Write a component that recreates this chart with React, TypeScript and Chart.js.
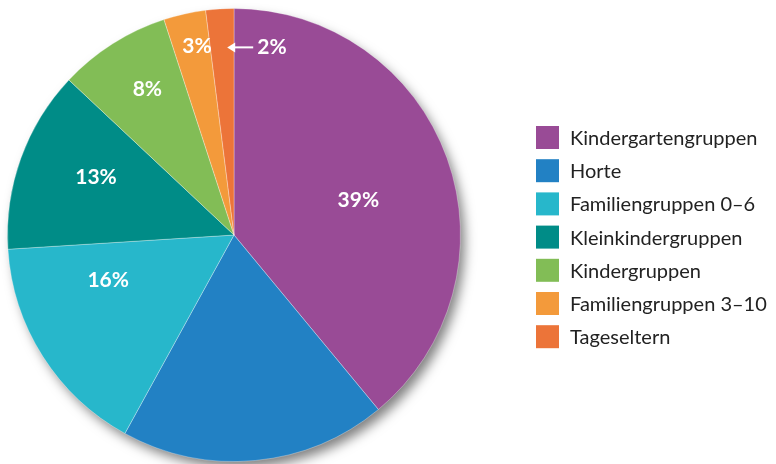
import React, { useEffect, useRef } from "react";
import { Chart, registerables } from "chart.js";

Chart.register(...registerables);

const categories = [
  "Kindergartengruppen",
  "Horte",
  "Familiengruppen 0–6",
  "Kleinkindergruppen",
  "Kindergruppen",
  "Familiengruppen 3–10",
  "Tageseltern",
];
const shares = [39, 19, 16, 13, 8, 3, 2];
const shownLabels = ["39%", "", "16%", "13%", "8%", "3%", "2%"];
const colors = ["#994B96", "#2281C4", "#27B7CB", "#008C87", "#82BD56", "#F39A3B", "#EC7439"];
// label placement inside slice: t = fraction of slice angle, r = fraction of radius
const labelPlacement = [
  { t: 0.53, r: 0.57 },
  null,
  { t: 0.72, r: 0.59 },
  { t: 0.56, r: 0.66 },
  { t: 0.56, r: 0.75 },
  { t: 0.64, r: 0.85 },
  { t: 0.5, r: 0.83, outside: true },
];

const FONT = "Lato, 'Open Sans', sans-serif";

const shadowPlugin = {
  id: "pieShadow",
  beforeDatasetsDraw(chart: any) {
    const arc = chart.getDatasetMeta(0).data[0];
    if (!arc) return;
    const ctx = chart.ctx;
    ctx.save();
    ctx.shadowColor = "rgba(0,0,0,0.5)";
    ctx.shadowBlur = 12;
    ctx.shadowOffsetX = 5;
    ctx.shadowOffsetY = 7;
    ctx.fillStyle = "#ffffff";
    ctx.beginPath();
    ctx.arc(arc.x, arc.y, arc.outerRadius - 1, 0, Math.PI * 2);
    ctx.fill();
    ctx.restore();
  },
};

const labelPlugin = {
  id: "sliceLabels",
  afterDatasetsDraw(chart: any) {
    const ctx = chart.ctx;
    const arcs = chart.getDatasetMeta(0).data;
    ctx.save();
    ctx.fillStyle = "#ffffff";
    ctx.strokeStyle = "#ffffff";
    ctx.font = `bold 21px ${FONT}`;
    ctx.textAlign = "center";
    ctx.textBaseline = "middle";
    arcs.forEach((arc: any, i: number) => {
      const p = labelPlacement[i];
      const txt = shownLabels[i];
      if (!p || !txt) return;
      const a = arc.startAngle + (arc.endAngle - arc.startAngle) * p.t;
      const r = arc.outerRadius * p.r;
      const x = arc.x + Math.cos(a) * r;
      const y = arc.y + Math.sin(a) * r;
      if ((p as any).outside) {
        const tip = x + 5;
        const tail = tip + 26;
        ctx.lineWidth = 2;
        ctx.beginPath();
        ctx.moveTo(tail, y);
        ctx.lineTo(tip + 3, y);
        ctx.stroke();
        ctx.beginPath();
        ctx.moveTo(tip, y);
        ctx.lineTo(tip + 8, y - 5);
        ctx.lineTo(tip + 8, y + 5);
        ctx.closePath();
        ctx.fill();
        ctx.textAlign = "left";
        ctx.fillText(txt, tail + 4, y);
        ctx.textAlign = "center";
      } else {
        ctx.fillText(txt, x, y);
      }
    });
    ctx.restore();
  },
};

const legendPlugin = {
  id: "customLegend",
  afterDraw(chart: any) {
    const ctx = chart.ctx;
    ctx.save();
    const boxX = 536;
    const top = 126;
    const step = 33.2;
    const size = 23;
    ctx.font = `20px ${FONT}`;
    ctx.textAlign = "left";
    ctx.textBaseline = "middle";
    categories.forEach((c, i) => {
      const y = top + i * step;
      ctx.fillStyle = colors[i];
      ctx.fillRect(boxX, y, size, size);
      ctx.fillStyle = "#222222";
      ctx.fillText(c, 570, y + size / 2 + 1);
    });
    ctx.restore();
  },
};

export default function App() {
  const ref = useRef<HTMLCanvasElement | null>(null);
  useEffect(() => {
    if (!ref.current) return;
    const chart = new Chart(ref.current, {
      type: "pie",
      data: {
        labels: categories,
        datasets: [
          {
            data: shares,
            backgroundColor: colors,
            borderColor: "rgba(255,255,255,0.3)",
            borderWidth: 1,
          },
        ],
      },
      options: {
        responsive: false,
        animation: false,
        devicePixelRatio: 1,
        layout: { padding: { left: 7, top: 8, right: 315, bottom: 2 } },
        plugins: {
          legend: { display: false },
          tooltip: { enabled: false },
        },
      },
      plugins: [shadowPlugin, labelPlugin, legendPlugin],
    });
    return () => chart.destroy();
  }, []);
  return (
    <div style={{ position: "fixed", left: 0, top: 0, width: 776, height: 464, background: "#fff" }}>
      <canvas ref={ref} width={776} height={464} />
    </div>
  );
}
